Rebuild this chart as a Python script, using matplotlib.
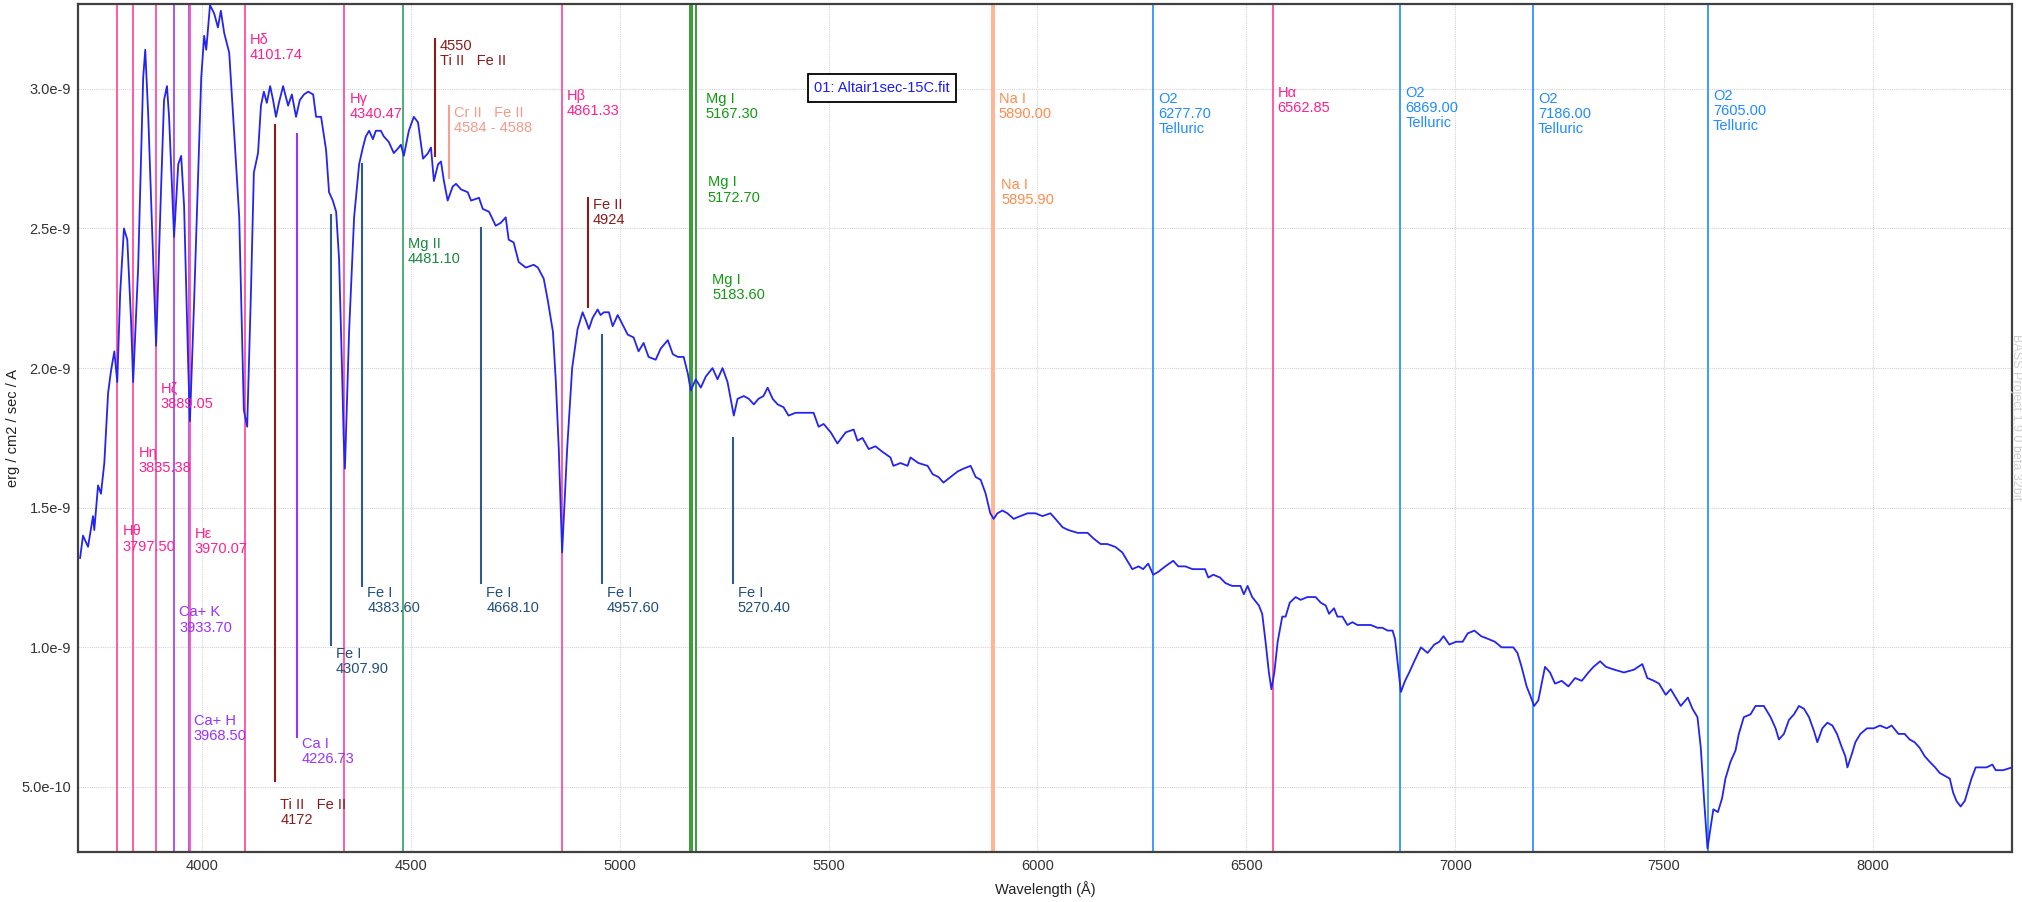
import numpy as np
import matplotlib
matplotlib.use("Agg")
import matplotlib.pyplot as plt
from matplotlib.ticker import FuncFormatter
from matplotlib.transforms import offset_copy

# spectrum (wavelength in Angstrom, flux in 1e-9 erg/cm2/s/A)
wavelength = [
    3708, 3715, 3727, 3739, 3742, 3751, 3758, 3766, 3770, 3775, 3782, 3790, 3797, 3804, 3813, 3821,
    3830, 3835, 3847, 3859, 3864, 3871, 3878, 3890, 3902, 3909, 3916, 3921, 3933, 3943, 3950, 3957,
    3967, 3971, 3981, 3998, 4005, 4010, 4019, 4029, 4038, 4045, 4053, 4065, 4077, 4089, 4100, 4108,
    4117, 4124, 4134, 4141, 4148, 4155, 4163, 4170, 4177, 4184, 4194, 4206, 4215, 4225, 4234, 4244,
    4254, 4266, 4273, 4285, 4297, 4304, 4313, 4321, 4328, 4335, 4339, 4342, 4352, 4364, 4376, 4385,
    4392, 4400, 4409, 4416, 4428, 4435, 4447, 4459, 4471, 4476, 4483, 4495, 4507, 4517, 4529, 4541,
    4548, 4555, 4565, 4572, 4579, 4588, 4600, 4608, 4620, 4636, 4644, 4663, 4672, 4687, 4703, 4715,
    4727, 4734, 4746, 4758, 4775, 4794, 4804, 4818, 4828, 4840, 4847, 4854, 4862, 4874, 4886, 4899,
    4911, 4919, 4926, 4935, 4947, 4954, 4962, 4974, 4983, 4995, 5002, 5019, 5033, 5045, 5057, 5069,
    5086, 5098, 5115, 5127, 5139, 5153, 5163, 5170, 5182, 5194, 5206, 5222, 5234, 5246, 5258, 5273,
    5282, 5297, 5309, 5321, 5332, 5344, 5354, 5366, 5378, 5392, 5404, 5421, 5438, 5452, 5464, 5476,
    5488, 5505, 5521, 5541, 5560, 5569, 5581, 5596, 5612, 5629, 5648, 5655, 5672, 5689, 5696, 5715,
    5737, 5749, 5763, 5775, 5792, 5809, 5823, 5840, 5852, 5864, 5876, 5887, 5895, 5904, 5916, 5928,
    5943, 5959, 5976, 5995, 6012, 6031, 6043, 6060, 6074, 6096, 6120, 6134, 6151, 6167, 6186, 6203,
    6215, 6227, 6242, 6253, 6265, 6277, 6289, 6306, 6325, 6337, 6354, 6371, 6389, 6401, 6409, 6421,
    6437, 6450, 6466, 6486, 6494, 6503, 6514, 6530, 6538, 6546, 6554, 6560, 6567, 6575, 6586, 6594,
    6604, 6618, 6630, 6646, 6666, 6678, 6690, 6698, 6710, 6718, 6730, 6742, 6754, 6766, 6782, 6798,
    6814, 6826, 6838, 6850, 6856, 6862, 6870, 6880, 6890, 6902, 6918, 6934, 6950, 6962, 6972, 6986,
    7002, 7018, 7030, 7046, 7062, 7079, 7095, 7111, 7127, 7139, 7149, 7159, 7171, 7179, 7189, 7199,
    7207, 7215, 7227, 7239, 7255, 7271, 7287, 7303, 7319, 7331, 7347, 7361, 7381, 7404, 7428, 7448,
    7460, 7476, 7488, 7504, 7516, 7528, 7540, 7557, 7568, 7580, 7588, 7596, 7604, 7611, 7618, 7629,
    7639, 7647, 7659, 7671, 7679, 7691, 7707, 7719, 7739, 7755, 7767, 7775, 7787, 7799, 7811, 7823,
    7835, 7847, 7859, 7867, 7879, 7891, 7903, 7914, 7926, 7934, 7939, 7950, 7958, 7970, 7986, 8002,
    8017, 8033, 8045, 8061, 8076, 8088, 8100, 8112, 8124, 8136, 8149, 8160, 8172, 8184, 8192, 8200,
    8210, 8220, 8228, 8236, 8246, 8260, 8272, 8286, 8294, 8312, 8333,
]
flux_e9 = [
    1.32, 1.40, 1.36, 1.47, 1.42, 1.58, 1.55, 1.66, 1.77, 1.91, 1.99, 2.06, 1.95, 2.27, 2.50, 2.46,
    2.17, 1.95, 2.36, 3.04, 3.14, 2.91, 2.60, 2.08, 2.65, 2.96, 3.01, 2.90, 2.47, 2.73, 2.76, 2.58,
    2.00, 1.81, 2.24, 3.04, 3.19, 3.14, 3.30, 3.27, 3.22, 3.28, 3.20, 3.13, 2.84, 2.54, 1.85, 1.79,
    2.27, 2.70, 2.77, 2.94, 2.99, 2.95, 3.01, 2.96, 2.90, 2.95, 3.01, 2.94, 2.98, 2.90, 2.96, 2.98,
    2.99, 2.98, 2.90, 2.90, 2.78, 2.63, 2.60, 2.56, 2.39, 2.00, 1.75, 1.64, 2.13, 2.54, 2.73, 2.79,
    2.83, 2.85, 2.82, 2.85, 2.85, 2.83, 2.81, 2.77, 2.79, 2.80, 2.76, 2.85, 2.90, 2.88, 2.75, 2.77,
    2.79, 2.67, 2.73, 2.74, 2.67, 2.60, 2.65, 2.66, 2.64, 2.63, 2.60, 2.61, 2.57, 2.56, 2.51, 2.52,
    2.54, 2.46, 2.45, 2.38, 2.36, 2.37, 2.36, 2.32, 2.24, 2.13, 1.95, 1.71, 1.34, 1.71, 2.00, 2.14,
    2.20, 2.17, 2.14, 2.18, 2.21, 2.19, 2.20, 2.20, 2.15, 2.19, 2.17, 2.12, 2.11, 2.06, 2.09, 2.04,
    2.03, 2.07, 2.10, 2.05, 2.04, 2.04, 1.98, 1.92, 1.96, 1.93, 1.97, 2.00, 1.96, 2.00, 1.95, 1.83,
    1.89, 1.90, 1.89, 1.87, 1.89, 1.90, 1.93, 1.89, 1.87, 1.86, 1.83, 1.84, 1.84, 1.84, 1.84, 1.79,
    1.80, 1.77, 1.73, 1.77, 1.78, 1.74, 1.75, 1.71, 1.72, 1.70, 1.68, 1.65, 1.66, 1.65, 1.68, 1.66,
    1.65, 1.62, 1.61, 1.59, 1.61, 1.63, 1.64, 1.65, 1.61, 1.60, 1.55, 1.48, 1.46, 1.48, 1.49, 1.48,
    1.46, 1.47, 1.48, 1.48, 1.47, 1.48, 1.46, 1.43, 1.42, 1.41, 1.41, 1.39, 1.37, 1.37, 1.36, 1.34,
    1.31, 1.28, 1.29, 1.28, 1.30, 1.26, 1.27, 1.29, 1.31, 1.29, 1.29, 1.28, 1.28, 1.28, 1.25, 1.26,
    1.25, 1.23, 1.22, 1.22, 1.19, 1.22, 1.18, 1.15, 1.12, 1.02, 0.91, 0.85, 0.91, 1.02, 1.11, 1.11,
    1.16, 1.18, 1.17, 1.18, 1.18, 1.16, 1.15, 1.12, 1.14, 1.11, 1.11, 1.08, 1.09, 1.08, 1.08, 1.08,
    1.07, 1.07, 1.06, 1.06, 1.03, 0.95, 0.84, 0.88, 0.91, 0.95, 1.00, 0.98, 1.01, 1.02, 1.04, 1.01,
    1.02, 1.02, 1.05, 1.06, 1.04, 1.03, 1.02, 1.00, 1.00, 1.00, 0.98, 0.93, 0.86, 0.83, 0.79, 0.81,
    0.87, 0.93, 0.91, 0.87, 0.88, 0.86, 0.89, 0.88, 0.91, 0.93, 0.95, 0.93, 0.92, 0.91, 0.92, 0.94,
    0.89, 0.88, 0.87, 0.83, 0.85, 0.82, 0.79, 0.82, 0.78, 0.75, 0.64, 0.45, 0.28, 0.35, 0.42, 0.41,
    0.46, 0.53, 0.59, 0.63, 0.69, 0.75, 0.76, 0.79, 0.79, 0.75, 0.71, 0.67, 0.69, 0.74, 0.76, 0.79,
    0.78, 0.75, 0.70, 0.66, 0.71, 0.73, 0.72, 0.69, 0.64, 0.61, 0.57, 0.62, 0.66, 0.69, 0.71, 0.71,
    0.72, 0.71, 0.72, 0.69, 0.69, 0.67, 0.66, 0.64, 0.61, 0.59, 0.57, 0.55, 0.54, 0.53, 0.48, 0.45,
    0.43, 0.45, 0.49, 0.53, 0.57, 0.57, 0.57, 0.58, 0.56, 0.56, 0.57,
]

x_ticks = [4000, 4500, 5000, 5500, 6000, 6500, 7000, 7500, 8000]
y_ticks_e9 = [0.5, 1.0, 1.5, 2.0, 2.5, 3.0]

# full-height line markers
line_names = ["Hθ", "Hη", "Hζ", "Ca+ K", "Ca+ H", "Hε", "Hδ", "Hγ", "Mg II", "Hβ",
              "Mg I", "Mg I", "Mg I", "Na I", "Na I", "O2", "Hα", "O2", "O2", "O2"]
line_waves = [3797.50, 3835.38, 3889.05, 3933.70, 3968.50, 3970.07, 4101.74, 4340.47, 4481.10,
              4861.33, 5167.30, 5172.70, 5183.60, 5890.00, 5895.90, 6277.70, 6562.85, 6869.00,
              7186.00, 7605.00]
line_kind = ["H", "H", "H", "Ca", "Ca", "H", "H", "H", "MgII", "H",
             "MgI", "MgI", "MgI", "Na", "Na", "O2", "H", "O2", "O2", "O2"]
# label top (1e-9 units) and extra x shift in pixels (layout)
line_label_y = [1.44, 1.72, 1.95, 1.15, 0.76, 1.43, 3.20, 2.99, 2.47, 3.00,
                2.99, 2.69, 2.34, 2.99, 2.68, 2.99, 3.01, 3.01, 2.99, 3.00]
line_label_dx = [0, 0, 0, 0, 0, 0, 0, 0, 0, 0,
                 11, 11, 11, 2, 2, 0, 0, 0, 0, 0]

# short marker segments: label, wavelength, from, to (1e-9)
mark_labels = ["Ti II   Fe II\n4172", "Ca I\n4226.73", "Fe I\n4307.90", "Fe I\n4383.60",
               "4550\nTi II   Fe II", "Cr II   Fe II\n4584 - 4588", "Fe I\n4668.10",
               "Fe II\n4924", "Fe I\n4957.60", "Fe I\n5270.40"]
mark_waves = [4175, 4226.73, 4307.90, 4383.60, 4557, 4590, 4668.10, 4924, 4957.60, 5270.40]
mark_top = [2.87, 2.84, 2.55, 2.73, 3.18, 2.94, 2.50, 2.61, 2.12, 1.75]
mark_bottom = [0.52, 0.68, 1.01, 1.22, 2.76, 2.68, 1.23, 2.22, 1.23, 1.23]
mark_kind = ["TiFe", "CaI", "FeI", "FeI", "TiFe", "Cr", "FeI", "TiFe", "FeI", "FeI"]
mark_label_y = [0.46, 0.68, 1.00, 1.22, 3.18, 2.94, 1.22, 2.61, 1.22, 1.22]

line_color = {"H": "#ff5aa8", "Ca": "#a855f7", "MgII": "#4caf7a", "MgI": "#3a9a3a",
              "Na": "#ffb48e", "O2": "#3d9bff", "FeI": "#2c5b8c", "TiFe": "#8b1a1a",
              "CaI": "#9933ff", "Cr": "#f7a090"}
text_color = {"H": "#ff1f8f", "Ca": "#9b30ff", "MgII": "#178a3c", "MgI": "#109a10",
              "Na": "#ff8c4a", "O2": "#1e8cff", "FeI": "#1f4f7f", "TiFe": "#8b1a1a",
              "CaI": "#9933ff", "Cr": "#f49a8a"}

plt.rcParams["font.family"] = ["Liberation Sans Narrow", "Liberation Sans", "DejaVu Sans"]
FS = 10.5

fig = plt.figure(figsize=(20.22, 9.02), dpi=100)
ax = fig.add_axes([78 / 2022, 50 / 902, 1934 / 2022, 848 / 902])

lam = np.array(wavelength)
flux = np.array(flux_e9) * 1e-9

ax.set_xlim(3703, 8333)
ax.set_ylim(0.267e-9, 3.304e-9)
ax.set_xticks(x_ticks)
ax.set_yticks(np.array(y_ticks_e9) * 1e-9)


def sci(v, pos):
    if v <= 0:
        return ""
    e = int(np.floor(np.log10(v) + 1e-9))
    return f"{v / 10**e:.1f}e{e}"


ax.yaxis.set_major_formatter(FuncFormatter(sci))
ax.grid(True, linestyle=(0, (1, 1)), color="#d4d4d4", linewidth=0.8)
ax.set_axisbelow(True)
ax.tick_params(length=0, labelsize=FS, colors="#333333", pad=5)
for s in ax.spines.values():
    s.set_color("#404040")
    s.set_linewidth(1.6)

for name, w, k, ly, dx in zip(line_names, line_waves, line_kind, line_label_y, line_label_dx):
    ax.axvline(w, color=line_color[k], lw=1.4, zorder=2)
    txt = f"{name}\n{w:.2f}"
    if k == "O2":
        txt += "\nTelluric"
    tr = offset_copy(ax.transData, fig=fig, x=5 + dx, y=0, units="dots")
    ax.text(w, ly * 1e-9, txt, transform=tr, color=text_color[k], fontsize=FS,
            va="top", ha="left", linespacing=1.1, zorder=5)

off = offset_copy(ax.transData, fig=fig, x=5, y=0, units="dots")
for lab, w, t, b, k, ly in zip(mark_labels, mark_waves, mark_top, mark_bottom,
                               mark_kind, mark_label_y):
    ax.plot([w, w], [b * 1e-9, t * 1e-9], color=line_color[k], lw=1.5, zorder=2)
    ax.text(w, ly * 1e-9, lab, transform=off, color=text_color[k], fontsize=FS,
            va="top", ha="left", linespacing=1.1, zorder=5)

ax.plot(lam, flux, color="#2424f0", lw=1.3, zorder=4)

ax.text(0.4157, 0.901, "01: Altair1sec-15C.fit", transform=ax.transAxes, ha="center",
        va="center", fontsize=FS, color="#1a1aff", zorder=6,
        bbox=dict(boxstyle="square,pad=0.45", fc="white", ec="black", lw=1.3))

ax.set_xlabel("Wavelength (Å)", fontsize=FS, color="#222222", labelpad=6)
ax.set_ylabel("erg / cm2 / sec / A", fontsize=FS, color="#222222")
ax.yaxis.set_label_coords(-0.030, 0.5)

fig.text(2016 / 2022, 1 - 417 / 902, "BASS Project 1.9.0 beta 32bit", rotation=-90,
         ha="center", va="center", fontsize=9, color="#d0d0d0")

fig.savefig("out.png", dpi=100)
